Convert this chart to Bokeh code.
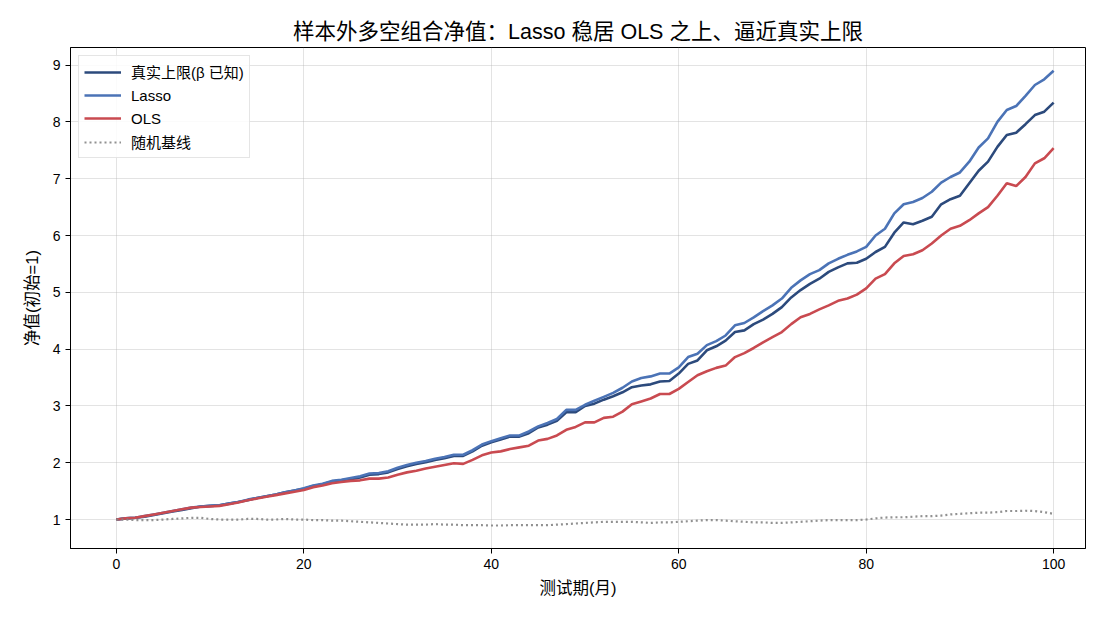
from bokeh.plotting import figure
from bokeh.models import ColumnDataSource, Legend, LegendItem, FixedTicker, Range1d
from bokeh.embed import file_html
from bokeh.resources import INLINE

# Out-of-sample long-short portfolio net value, months 0..100
months = list(range(101))

true_upper = [
    1.00, 1.02, 1.03, 1.05, 1.08, 1.11, 1.14, 1.17, 1.20, 1.23,
    1.24, 1.25, 1.28, 1.31, 1.34, 1.38, 1.41, 1.44, 1.48, 1.51,
    1.54, 1.59, 1.62, 1.67, 1.69, 1.71, 1.74, 1.79, 1.80, 1.83,
    1.89, 1.94, 1.98, 2.01, 2.05, 2.08, 2.12, 2.12, 2.20, 2.30,
    2.36, 2.41, 2.46, 2.46, 2.52, 2.62, 2.67, 2.74, 2.89, 2.89,
    3.00, 3.04, 3.11, 3.17, 3.24, 3.33, 3.36, 3.38, 3.43, 3.44,
    3.57, 3.74, 3.80, 3.98, 4.05, 4.15, 4.30, 4.33, 4.44, 4.52,
    4.62, 4.74, 4.91, 5.04, 5.15, 5.24, 5.36, 5.44, 5.51, 5.52,
    5.59, 5.71, 5.80, 6.05, 6.23, 6.20, 6.26, 6.33, 6.55, 6.64,
    6.70, 6.92, 7.14, 7.30, 7.56, 7.77, 7.81, 7.96, 8.12, 8.18,
    8.34,
]

lasso = [
    1.00, 1.02, 1.03, 1.06, 1.09, 1.12, 1.15, 1.18, 1.21, 1.23,
    1.24, 1.25, 1.28, 1.31, 1.35, 1.38, 1.41, 1.44, 1.48, 1.51,
    1.55, 1.60, 1.63, 1.68, 1.70, 1.73, 1.76, 1.81, 1.82, 1.85,
    1.91, 1.96, 2.00, 2.03, 2.07, 2.10, 2.14, 2.14, 2.22, 2.32,
    2.38, 2.43, 2.48, 2.48, 2.55, 2.64, 2.70, 2.77, 2.93, 2.93,
    3.02, 3.09, 3.16, 3.23, 3.32, 3.43, 3.49, 3.52, 3.57, 3.57,
    3.68, 3.86, 3.92, 4.07, 4.14, 4.24, 4.42, 4.46, 4.56, 4.67,
    4.77, 4.89, 5.08, 5.21, 5.32, 5.39, 5.51, 5.59, 5.66, 5.72,
    5.80, 6.00, 6.12, 6.39, 6.55, 6.59, 6.66, 6.77, 6.93, 7.03,
    7.11, 7.30, 7.55, 7.71, 8.00, 8.21, 8.28, 8.46, 8.65, 8.75,
    8.90,
]

ols = [
    1.00, 1.02, 1.03, 1.06, 1.09, 1.12, 1.15, 1.18, 1.21, 1.22,
    1.23, 1.24, 1.27, 1.30, 1.34, 1.37, 1.40, 1.43, 1.46, 1.49,
    1.52, 1.57, 1.60, 1.64, 1.66, 1.68, 1.69, 1.72, 1.72, 1.74,
    1.79, 1.83, 1.86, 1.90, 1.93, 1.96, 1.99, 1.98, 2.05, 2.13,
    2.18, 2.20, 2.24, 2.27, 2.30, 2.39, 2.42, 2.48, 2.58, 2.63,
    2.71, 2.71, 2.79, 2.81, 2.90, 3.03, 3.08, 3.13, 3.21, 3.21,
    3.30, 3.42, 3.54, 3.61, 3.67, 3.71, 3.86, 3.93, 4.02, 4.12,
    4.21, 4.30, 4.44, 4.56, 4.62, 4.70, 4.77, 4.85, 4.89, 4.96,
    5.07, 5.24, 5.32, 5.51, 5.64, 5.67, 5.74, 5.86, 6.00, 6.12,
    6.17, 6.27, 6.39, 6.50, 6.70, 6.92, 6.87, 7.03, 7.27, 7.36,
    7.54,
]

random_baseline = [
    1.00, 1.00, 0.99, 0.99, 0.99, 1.00, 1.01, 1.02, 1.03, 1.03,
    1.01, 1.00, 1.00, 1.00, 1.01, 1.01, 1.00, 1.00, 1.01, 1.00,
    1.00, 0.99, 0.99, 0.98, 0.98, 0.97, 0.96, 0.95, 0.94, 0.93,
    0.92, 0.91, 0.91, 0.91, 0.92, 0.91, 0.91, 0.90, 0.90, 0.90,
    0.895, 0.895, 0.90, 0.90, 0.90, 0.90, 0.90, 0.91, 0.92, 0.93,
    0.94, 0.95, 0.96, 0.96, 0.96, 0.96, 0.95, 0.94, 0.95, 0.95,
    0.96, 0.97, 0.98, 0.99, 0.99, 0.98, 0.97, 0.96, 0.95, 0.95,
    0.94, 0.94, 0.95, 0.96, 0.97, 0.98, 0.99, 0.99, 0.99, 0.99,
    1.00, 1.02, 1.035, 1.04, 1.04, 1.05, 1.06, 1.06, 1.07, 1.09,
    1.10, 1.11, 1.12, 1.12, 1.13, 1.15, 1.15, 1.155, 1.15, 1.13,
    1.10,
]

series_labels = ["真实上限(β 已知)", "Lasso", "OLS", "随机基线"]
x_ticks = [0, 20, 40, 60, 80, 100]
y_ticks = [1, 2, 3, 4, 5, 6, 7, 8, 9]

FONT = "'Liberation Sans', Arial, 'Noto Sans CJK SC', sans-serif"

src = ColumnDataSource(dict(
    m=months, t=true_upper, l=lasso, o=ols, b=random_baseline,
))

p = figure(
    width=1118, height=624,
    output_backend="svg", toolbar_location=None,
    x_range=Range1d(-4.9, 103.4), y_range=Range1d(0.49, 9.31),
    min_border_left=70, min_border_right=33,
    min_border_top=47, min_border_bottom=76,
    title="样本外多空组合净值：Lasso 稳居 OLS 之上、逼近真实上限",
)

p.title.align = "center"
p.title.text_font = FONT
p.title.text_font_size = "21.5px"
p.title.text_font_style = "normal"
p.title.text_color = "#000000"
p.title.standoff = 8

p.outline_line_color = "#000000"
p.outline_line_width = 1
p.background_fill_color = "#ffffff"
p.border_fill_color = "#ffffff"

for ax in (p.xaxis[0], p.yaxis[0]):
    ax.axis_line_color = "#000000"
    ax.major_tick_line_color = "#000000"
    ax.major_tick_out = 5
    ax.major_tick_in = 0
    ax.minor_tick_line_color = None
    ax.major_label_text_font = FONT
    ax.major_label_text_font_size = "14px"
    ax.major_label_text_color = "#000000"
    ax.axis_label_text_font = FONT
    ax.axis_label_text_font_size = "16.5px"
    ax.axis_label_text_font_style = "normal"
    ax.axis_label_text_color = "#000000"

p.xaxis.ticker = FixedTicker(ticks=x_ticks)
p.yaxis.ticker = FixedTicker(ticks=y_ticks)
p.xaxis.axis_label = "测试期(月)"
p.yaxis.axis_label = "净值(初始=1)"
p.xaxis.axis_label_standoff = 7
p.yaxis.axis_label_standoff = 9

p.grid.grid_line_color = "#b0b0b0"
p.grid.grid_line_alpha = 0.35
p.grid.grid_line_width = 1

r_true = p.line("m", "t", source=src, line_color="#2c4a7c", line_width=2.6)
r_lasso = p.line("m", "l", source=src, line_color="#4b73b6", line_width=2.6)
r_ols = p.line("m", "o", source=src, line_color="#c94a50", line_width=2.6)
r_base = p.line("m", "b", source=src, line_color="#858585", line_width=2.2,
                line_dash="2 3", line_alpha=0.9)

legend = Legend(
    items=[
        LegendItem(label=series_labels[0], renderers=[r_true]),
        LegendItem(label=series_labels[1], renderers=[r_lasso]),
        LegendItem(label=series_labels[2], renderers=[r_ols]),
        LegendItem(label=series_labels[3], renderers=[r_base]),
    ],
    location="top_left",
    margin=8,
    padding=5,
    spacing=3,
    glyph_width=37,
    glyph_height=20,
    label_height=20,
    label_standoff=10,
    label_text_font=FONT,
    label_text_font_size="15px",
    label_text_color="#000000",
    border_line_color="#cccccc",
    border_line_width=1,
    background_fill_color="#ffffff",
    background_fill_alpha=0.85,
)
p.add_layout(legend)

open("out.html", "w").write(file_html(p, INLINE))
